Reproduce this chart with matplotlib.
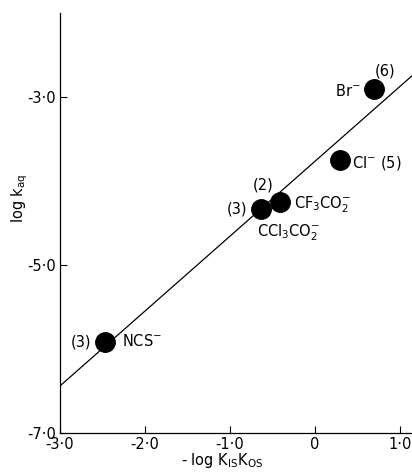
import matplotlib
matplotlib.use('Agg')
import matplotlib.pyplot as plt

# data
ions = ["NCS", "CCl3CO2", "CF3CO2", "Cl", "Br"]
x_vals = [-2.47, -0.63, -0.41, 0.29, 0.69]
y_vals = [-5.92, -4.33, -4.25, -3.75, -2.90]

line_x = [-3.0, 1.14]
line_y = [-6.44, -2.75]

xticks = [-3.0, -2.0, -1.0, 0.0, 1.0]
xtick_labels = ["-3·0", "-2·0", "-1·0", "0", "1·0"]
yticks = [-7.0, -5.0, -3.0]
ytick_labels = ["-7·0", "-5·0", "-3·0"]

fig = plt.figure(figsize=(4.12, 4.73), dpi=100)
ax = fig.add_axes([0.1456, 0.0846, 0.854, 0.888])

ax.plot(line_x, line_y, color='black', linewidth=0.9)
ax.plot(x_vals, y_vals, 'o', color='black', markersize=14)

ax.set_xlim(-3.0, 1.14)
ax.set_ylim(-7.0, -2.0)

ax.spines['top'].set_visible(False)
ax.spines['right'].set_visible(False)
ax.spines['left'].set_linewidth(0.9)
ax.spines['bottom'].set_linewidth(0.9)

ax.set_xticks(xticks)
ax.set_xticklabels(xtick_labels)
ax.set_yticks(yticks)
ax.set_yticklabels(ytick_labels)
ax.tick_params(direction='in', length=5, width=0.8, labelsize=10.5, pad=3)

ax.set_ylabel(r"log k$_{\rm aq}$", fontsize=10.5, va='center')
ax.yaxis.set_label_coords(-0.115, 0.56)
ax.set_xlabel(r"- log K$_{\rm IS}$K$_{\rm OS}$", fontsize=10.5, va='center')
ax.xaxis.set_label_coords(0.46, -0.066)

fs = 10.5
def lab(i, text, dx, dy, ha='left'):
    ax.annotate(text, (x_vals[i], y_vals[i]), xytext=(dx, dy),
                textcoords='offset points', ha=ha, va='center', fontsize=fs)

lab(0, "(3)", -10, 0, ha='right')
lab(0, r"NCS$^{-}$", 12, 1)
lab(1, "(3)", -10, 0, ha='right')
lab(2, "(2)", -12, 12, ha='center')
lab(2, r"CF$_3$CO$_2^{-}$", 10, -2)
lab(1, r"CCl$_3$CO$_2^{-}$", -3, -17)
lab(3, r"Cl$^{-}$ (5)", 9, -2)
lab(4, r"Br$^{-}$", -9, -2, ha='right')
lab(4, "(6)", 8, 13, ha='center')

plt.savefig("out.png", dpi=100)
